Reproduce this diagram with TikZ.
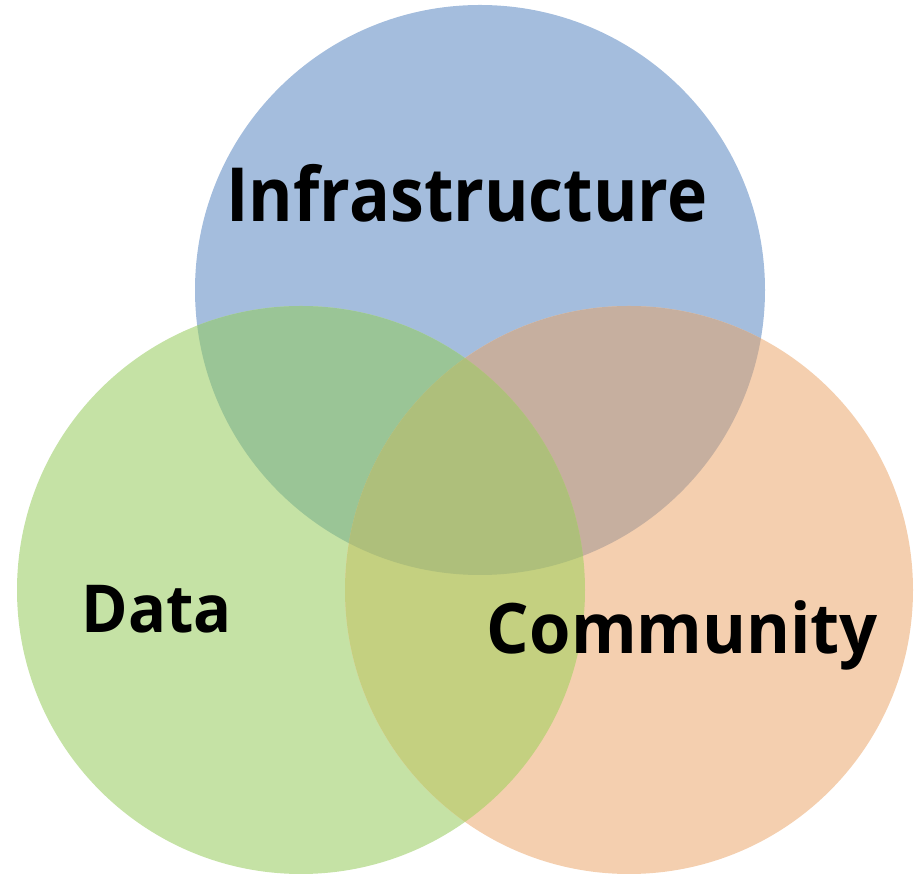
\documentclass[tikz,border=0pt]{standalone}
\usepackage{fontspec}
\setmainfont{Open Sans}
\begin{document}
\begin{tikzpicture}[x=1pt,y=1pt,
  lbl/.style={inner sep=0pt, anchor=base, font=\bfseries, text=black}]
\definecolor{cblue}{RGB}{164,189,221}
\definecolor{cgreen}{RGB}{197,226,165}
\definecolor{corange}{RGB}{244,207,175}
\definecolor{cbg}{RGB}{154,197,150}
\definecolor{cbo}{RGB}{198,175,159}
\definecolor{cgo}{RGB}{196,208,128}
\definecolor{call}{RGB}{174,191,123}
\useasboundingbox (0,0) rectangle (914,875);
\coordinate (B) at (480,585);
\coordinate (G) at (301,285);
\coordinate (O) at (629,285);
\def\rb{285}
\def\rg{284}
\fill[cblue] (B) circle (\rb);
\fill[cgreen] (G) circle (\rg);
\fill[corange] (O) circle (\rg);
\begin{scope}
  \clip (B) circle (\rb);
  \fill[cbg] (G) circle (\rg);
  \fill[cbo] (O) circle (\rg);
\end{scope}
\begin{scope}
  \clip (G) circle (\rg);
  \fill[cgo] (O) circle (\rg);
  \clip (O) circle (\rg);
  \fill[call] (B) circle (\rb);
\end{scope}
\node[lbl] (infra) at (467,653) {\resizebox{481pt}{!}{\scalebox{1}[1.1]{\bfseries Infrastructure}}};
\node[lbl] (data) at (157,242) {\resizebox{150pt}{!}{\scalebox{1}[1.05]{\bfseries Data}}};
\node[lbl] (comm) at (682.5,221) {\resizebox{391pt}{!}{\scalebox{1}[1.04]{\bfseries Community}}};
\end{tikzpicture}
\end{document}
